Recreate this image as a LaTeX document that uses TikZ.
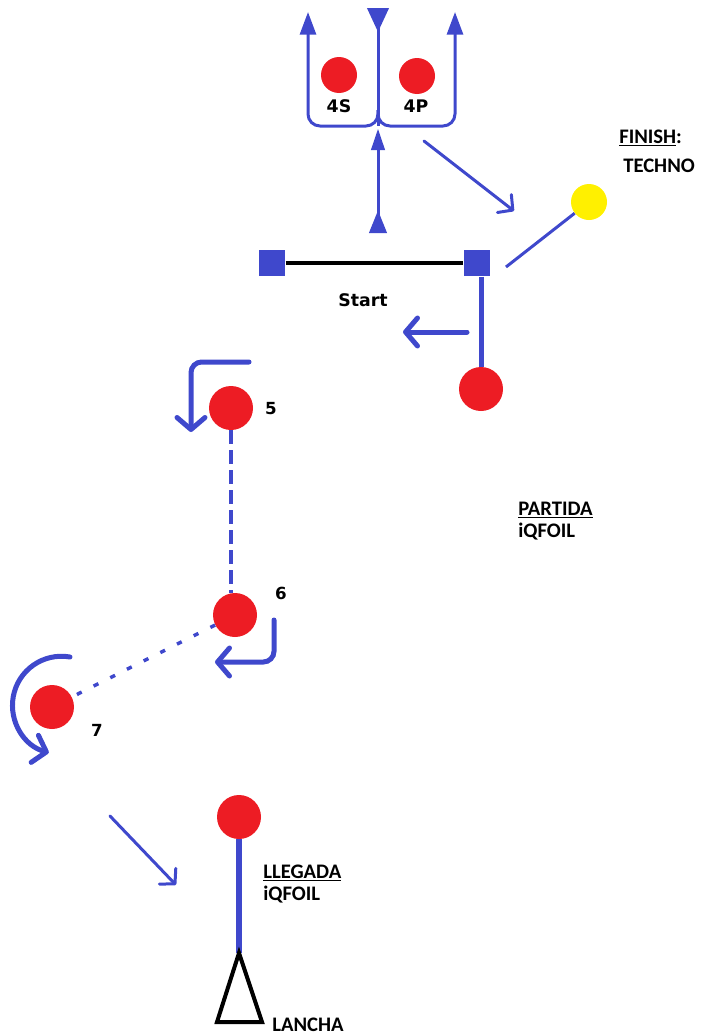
\documentclass[tikz,border=0pt]{standalone}
\usepackage{fontspec}
\setmainfont{Carlito}
\newfontfamily\markfont{DejaVu Sans}
\definecolor{courseblue}{RGB}{63, 72, 204}
\definecolor{buoyred}{RGB}{237, 28, 36}
\definecolor{buoyyellow}{RGB}{255, 240, 0}
\usetikzlibrary{arrows.meta, positioning, calc}

\tikzset{
  buoy/.style={circle, fill=buoyred, minimum size=33pt, inner sep=0pt},
  flagbox/.style={fill=courseblue, minimum size=20pt, inner sep=0pt},
  track/.style={draw=courseblue, line width=2.25pt},
  heavytrack/.style={draw=courseblue, line width=3.75pt, line cap=round},
  barb/.style={-{Straight Barb[length=8pt, width=17pt, round]}},
  heavybarb/.style={-{Straight Barb[length=9pt, width=21pt, round]}},
  marklabel/.style={font=\markfont\bfseries\fontsize{13pt}{15pt}\selectfont, inner sep=0pt},
  numlabel/.style={font=\markfont\bfseries\fontsize{12.5pt}{14pt}\selectfont, inner sep=0pt},
  notelabel/.style={font=\bfseries\fontsize{15.5pt}{18pt}\selectfont, anchor=base west, inner sep=0pt},
}

\begin{document}
\begin{tikzpicture}[x=0.75pt, y=-0.75pt]
  \useasboundingbox (0,0) rectangle (701,1035);

  % Gate 4S / 4P
  \node[buoy, minimum size=27pt] (m4s) at (339,75) {};
  \node[buoy, minimum size=27pt] (m4p) at (417,76) {};
  \node[marklabel] (l4s) at (339,106) {4S};
  \node[marklabel] (l4p) at (416,106) {4P};

  \coordinate (gatetop) at (378,8);
  \coordinate (gatejoin) at (378,126);
  \coordinate (gatefoot) at (378,233);
  \coordinate (uleft) at (308,12);
  \coordinate (uright) at (455,12);

  \draw[track, {Triangle[reversed, length=18pt, width=16pt]}-] (gatetop) -- (gatejoin);
  \draw[track, rounded corners=9pt, -{Triangle[length=17pt, width=12pt]}] ([yshift=12pt]gatejoin) |- (uleft |- gatejoin) -- (uleft);
  \draw[track, rounded corners=9pt, -{Triangle[length=17pt, width=12pt]}] ([yshift=12pt]gatejoin) |- (uright |- gatejoin) -- (uright);
  \draw[track, {Triangle[reversed, length=17pt, width=13pt]}-{Triangle[length=16pt, width=10pt]}] (gatefoot) -- ([yshift=-2pt]gatejoin);

  % Run to the finish
  \coordinate (tofin1) at (424,141);
  \coordinate (tofin2) at (514,211);
  \draw[track, barb, line cap=round] (tofin1) -- (tofin2);

  % Finish: techno
  \node[circle, fill=buoyyellow, minimum size=27pt, inner sep=0pt] (mfinish) at (589,202) {};
  \coordinate (finend) at (506,267);
  \draw[track] (mfinish) -- (finend);
  \node[notelabel] (finishlbl) at (619,143) {\underline{FINISH}:};
  \node[notelabel] (technolbl) at (623,172) {TECHNO};

  % Start line
  \node[flagbox] (pinleft) at (272,263) {};
  \node[flagbox] (pinright) at (477,263) {};
  \draw[line width=2.6pt] (pinleft) -- (pinright);
  \node[marklabel] (startlbl) at (363,300) {Start};

  \node[buoy] (mstart) at (481,389) {};
  \draw[heavytrack, line cap=butt] (mstart |- pinright.south) -- (mstart);
  \coordinate (go1) at (467,332);
  \coordinate (go2) at (403,332);
  \draw[heavytrack, heavybarb] (go1) -- (go2);

  % Partida iQFoil
  \node[notelabel] (partidalbl) at (518,515) {\underline{PARTIDA}};
  \node[notelabel] (partidafoil) at (518,537) {iQFOIL};

  % Mark 5
  \node[buoy] (m5) at (231,408) {};
  \node[numlabel] (l5) at (271,409) {5};
  \coordinate (turn5a) at (249,362);
  \coordinate (turn5b) at (191,432);
  \draw[heavytrack, heavybarb, rounded corners=8pt] (turn5a) -| (turn5b);

  % Mark 6
  \node[buoy] (m6) at (235,615) {};
  \node[numlabel] (l6) at (281,593) {6};
  \coordinate (turn6a) at (274,620);
  \coordinate (turn6b) at (215,662);
  \draw[heavytrack, heavybarb, rounded corners=8pt] (turn6a) |- (turn6b);
  \draw[draw=courseblue, line width=3pt, dash pattern=on 10pt off 5pt] (m5.south) -- (m5.south |- m6.north);

  % Mark 7
  \node[buoy] (m7) at (52,707) {};
  \node[numlabel] (l7) at (97,730) {7};
  \coordinate (turn7) at (70,657);
  \draw[heavytrack, heavybarb] (turn7) arc[start angle=-80, end angle=-255, radius=49];
  \draw[draw=courseblue, line width=2.6pt, dash pattern=on 4pt off 10pt] (m6) -- (m7);

  % Finish iQFoil
  \coordinate (tollegada1) at (110,816);
  \coordinate (tollegada2) at (176,885);
  \draw[track, barb, line cap=round] (tollegada1) -- (tollegada2);

  \node[buoy] (mllegada) at (239,817) {};
  \coordinate (lancha) at (239,953);
  \draw[draw=courseblue, line width=4.5pt] (mllegada) -- (lancha);
  \draw[line width=3pt] (lancha) -- ++(-22,69) -- ++(45,0) -- cycle;
  \node[notelabel] (llegadalbl) at (263,878) {\underline{LLEGADA}};
  \node[notelabel] (llegadafoil) at (263,900) {iQFOIL};
  \node[notelabel] (lanchalbl) at (272,1031) {LANCHA};
\end{tikzpicture}
\end{document}
